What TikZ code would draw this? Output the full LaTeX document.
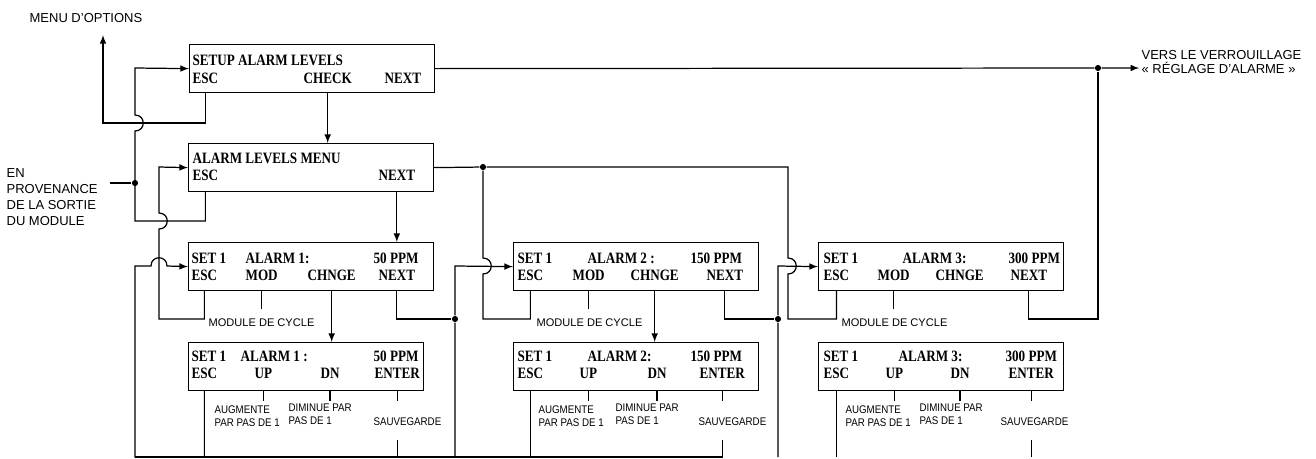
\documentclass[tikz,border=0pt]{standalone}
\usepackage{fontspec}
\setmainfont{Liberation Serif}
\setsansfont{Liberation Sans}
\newfontfamily\lcdfont{Liberation Serif}[FakeStretch=0.83]
\newfontfamily\narrowsans{Liberation Sans}[FakeStretch=0.88]
\usepackage{tikz}

\tikzset{
  lcd/.style={draw, line width=0.7pt, minimum width=4.9cm, minimum height=0.96cm, inner sep=0pt, anchor=north west},
  keytxt/.style={font=\lcdfont\bfseries\fontsize{9}{10}\selectfont, inner sep=0pt, anchor=base west},
  lbl/.style={font=\narrowsans\fontsize{6.3}{7.4}\selectfont, inner sep=0pt, anchor=west, align=left},
  biglbl/.style={font=\sffamily\fontsize{7.4}{9.1}\selectfont, inner sep=0pt, anchor=west, align=left},
  dot/.style={circle, fill, inner sep=0pt, minimum size=3.5pt},
}

\begin{document}
\begin{tikzpicture}[x=0.02cm, y=-0.02cm, line width=0.7pt, >=latex]
\useasboundingbox (0,0) rectangle (1316,458);

% outside labels
\node[biglbl] (menu) at (29,18) {MENU D'OPTIONS};
\node[biglbl] (prov) at (6,197) {EN\\PROVENANCE\\DE LA SORTIE\\DU MODULE};
\node[biglbl, font=\sffamily\fontsize{7.4}{7.6}\selectfont] (vers) at (1141,62) {VERS LE VERROUILLAGE\\« RÉGLAGE D'ALARME »};

% screens
\node[lcd] (setup) at (189,44) {};
\node[lcd] (lvl) at (188,143) {};
\node[lcd] (al1) at (188,242) {};
\node[lcd, minimum width=4.7cm] (ed1) at (188,342) {};
\node[lcd] (al2) at (513,242) {};
\node[lcd] (ed2) at (513,342) {};
\node[lcd] (al3) at (818,242) {};
\node[lcd] (ed3) at (818,342) {};

% screen texts
\node[keytxt] (sAtop) at (192,65) {SETUP ALARM LEVELS};
\node[keytxt] (sAesc) at (192,83) {ESC};
\node[keytxt] (sAchk) at (303,83) {CHECK};
\node[keytxt] (sAnext) at (384,83) {NEXT};

\node[keytxt] (lvtop) at (192,163) {ALARM LEVELS MENU};
\node[keytxt] (lvesc) at (192,180) {ESC};
\node[keytxt] (lvnext) at (378,180) {NEXT};

\node[keytxt] (a1set) at (191,263) {SET 1};
\node[keytxt] (a1alm) at (245,263) {ALARM 1:};
\node[keytxt] (a1ppm) at (373,263) {50 PPM};
\node[keytxt] (a1esc) at (191,280) {ESC};
\node[keytxt] (a1mod) at (245,280) {MOD};
\node[keytxt] (a1chg) at (307,280) {CHNGE};
\node[keytxt] (a1next) at (378,280) {NEXT};

\node[keytxt] (e1set) at (191,361) {SET 1};
\node[keytxt] (e1alm) at (240,361) {ALARM 1 :};
\node[keytxt] (e1ppm) at (373,361) {50 PPM};
\node[keytxt] (e1esc) at (191,378) {ESC};
\node[keytxt] (e1up) at (254,378) {UP};
\node[keytxt] (e1dn) at (320,378) {DN};
\node[keytxt] (e1ent) at (374,378) {ENTER};

\node[keytxt] (a2set) at (517,263) {SET 1};
\node[keytxt] (a2alm) at (587,263) {ALARM 2 :};
\node[keytxt] (a2ppm) at (690,263) {150 PPM};
\node[keytxt] (a2esc) at (517,280) {ESC};
\node[keytxt] (a2mod) at (572,280) {MOD};
\node[keytxt] (a2chg) at (630,280) {CHNGE};
\node[keytxt] (a2next) at (706,280) {NEXT};

\node[keytxt] (e2set) at (517,361) {SET 1};
\node[keytxt] (e2alm) at (587,361) {ALARM 2:};
\node[keytxt] (e2ppm) at (690,361) {150 PPM};
\node[keytxt] (e2esc) at (517,378) {ESC};
\node[keytxt] (e2up) at (579,378) {UP};
\node[keytxt] (e2dn) at (647,378) {DN};
\node[keytxt] (e2ent) at (699,378) {ENTER};

\node[keytxt] (a3set) at (823,263) {SET 1};
\node[keytxt] (a3alm) at (902,263) {ALARM 3:};
\node[keytxt] (a3ppm) at (1008,263) {300 PPM};
\node[keytxt] (a3esc) at (823,280) {ESC};
\node[keytxt] (a3mod) at (877,280) {MOD};
\node[keytxt] (a3chg) at (935,280) {CHNGE};
\node[keytxt] (a3next) at (1010,280) {NEXT};

\node[keytxt] (e3set) at (823,361) {SET 1};
\node[keytxt] (e3alm) at (898,361) {ALARM 3:};
\node[keytxt] (e3ppm) at (1005,361) {300 PPM};
\node[keytxt] (e3esc) at (823,378) {ESC};
\node[keytxt] (e3up) at (885,378) {UP};
\node[keytxt] (e3dn) at (950,378) {DN};
\node[keytxt] (e3ent) at (1008,378) {ENTER};

% key labels
\node[lbl, font=\sffamily\fontsize{6.3}{7.4}\selectfont] (cyc1) at (208,323) {MODULE DE CYCLE};
\node[lbl] (up1) at (214,416) {AUGMENTE\\PAR PAS DE 1};
\node[lbl] (dn1) at (288,414) {DIMINUE PAR\\PAS DE 1};
\node[lbl] (sv1) at (373,422) {SAUVEGARDE};
\node[lbl, font=\sffamily\fontsize{6.3}{7.4}\selectfont] (cyc2) at (536,323) {MODULE DE CYCLE};
\node[lbl] (up2) at (538,416) {AUGMENTE\\PAR PAS DE 1};
\node[lbl] (dn2) at (615,414) {DIMINUE PAR\\PAS DE 1};
\node[lbl] (sv2) at (698,422) {SAUVEGARDE};
\node[lbl, font=\sffamily\fontsize{6.3}{7.4}\selectfont] (cyc3) at (841,323) {MODULE DE CYCLE};
\node[lbl] (up3) at (845,416) {AUGMENTE\\PAR PAS DE 1};
\node[lbl] (dn3) at (919,414) {DIMINUE PAR\\PAS DE 1};
\node[lbl] (sv3) at (1000,422) {SAUVEGARDE};

% junctions and free ends
\node[dot] (dA) at (1098,68) {};
\node[dot] (dP) at (135,183) {};
\node[dot] (dB) at (483,167) {};
\node[dot] (d1) at (455,319) {};
\node[dot] (d2) at (778,319) {};
\coordinate (mt) at (103,35);
\coordinate (pin) at (110,183);
\coordinate (r3) at (1098,319);
\coordinate (b1) at (135,457);
\coordinate (b2) at (455,457);
\coordinate (b3) at (778,457);

% top line
\draw[->, shorten >=1pt] (setup.east) -- (dA) -- (vers.west |- dA);
\draw (a3next |- al3.south) |- (r3) -- (dA);
\draw[->] (sAesc |- setup.south) |- (103,123) -- (mt);
\draw[->] (sAchk |- setup.south) -- (sAchk |- lvl.north);

% left buses
\draw (pin) -- (dP);
\draw[->] (lvesc |- lvl.south) |- (135,221) -- (135,131) .. controls (146,131) and (146,115) .. (135,115) -- (135,68) -- (setup.west);
\draw[->] (a1esc |- al1.south) |- (159,319) -- (159,229) .. controls (170,229) and (170,213) .. (159,213) -- (159,167) -- (lvl.west);
\draw[->] (lvnext |- lvl.south) -- (lvnext |- al1.north);

% group 1
\draw (a1mod |- al1.south) -- ++(0,18);
\draw[->] (a1chg |- al1.south) -- (a1chg |- ed1.north);
\draw (a1next |- al1.south) |- (d1);
\draw[->] (e1esc |- ed1.south) |- (b1) -- (135,266) -- (151,266) .. controls (151,255) and (167,255) .. (167,266) -- (al1.west);
\draw (e1up |- ed1.south) -- ++(0,10);
\draw (e1dn |- ed1.south) -- ++(0,10);
\draw (e1ent |- ed1.south) -- ++(0,10);
\draw (e1ent |- b1) -- ++(0,-17);
\draw (b1) -- (b2);

% group 2
\draw (lvl.east) -- (dB);
\draw (a2esc |- al2.south) |- (483,319) -- (483,274) .. controls (494,274) and (494,258) .. (483,258) -- (dB);
\draw[->] (b2) -- (d1) -- (455,266) -- (al2.west);
\draw (a2mod |- al2.south) -- ++(0,18);
\draw[->] (a2chg |- al2.south) -- (a2chg |- ed2.north);
\draw (a2next |- al2.south) |- (d2);
\draw (e2esc |- ed2.south) -- (e2esc |- b2);
\draw (e2up |- ed2.south) -- ++(0,10);
\draw (e2dn |- ed2.south) -- ++(0,10);
\draw (e2ent |- ed2.south) -- ++(0,10);
\draw (b2) -- (e2ent |- b2) -- ++(0,-17);

% group 3
\draw (a3esc |- al3.south) |- (788,319) -- (788,274) .. controls (799,274) and (799,258) .. (788,258) -- (788,167) -- (dB);
\draw[->] (b3) -- (d2) -- (778,266) -- (al3.west);
\draw (a3mod |- al3.south) -- ++(0,18);
\draw (e3esc |- ed3.south) -- (e3esc |- b3);
\draw (e3up |- ed3.south) -- ++(0,10);
\draw (e3dn |- ed3.south) -- ++(0,10);
\draw (e3ent |- ed3.south) -- ++(0,10);
\draw (e3ent |- b3) -- ++(0,-17);
\end{tikzpicture}
\end{document}
